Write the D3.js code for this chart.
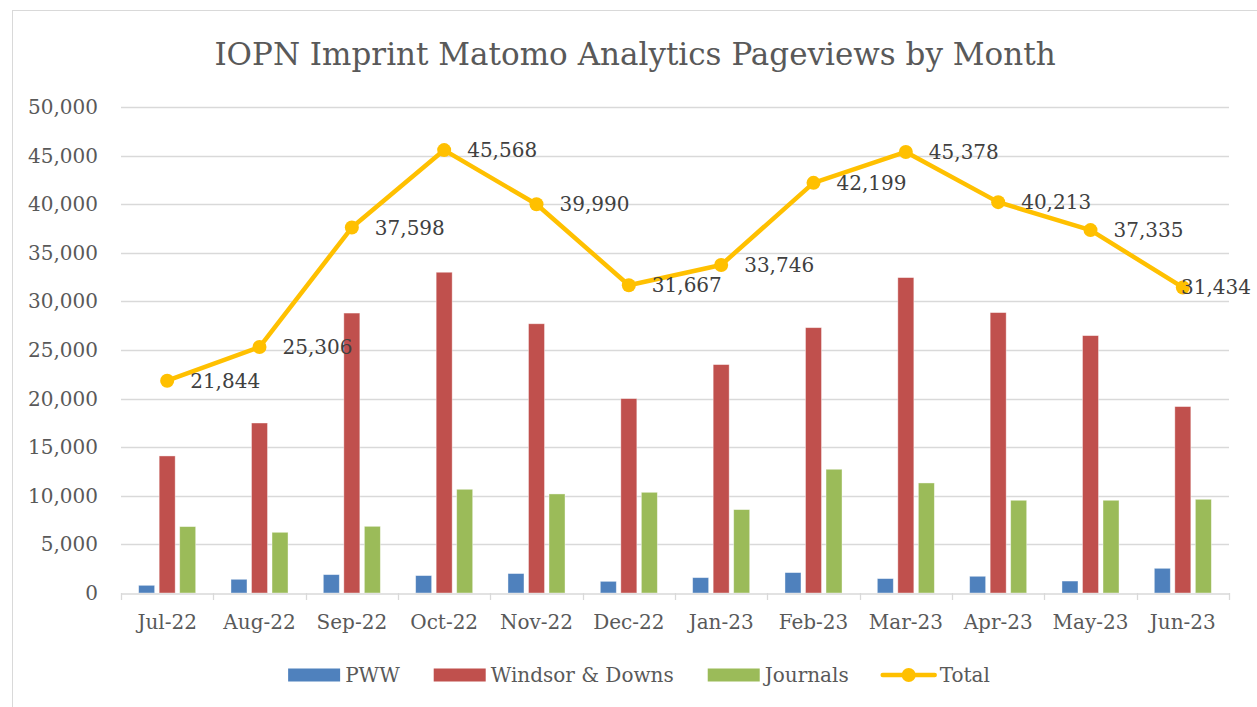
<!DOCTYPE html>
<html>
<head>
<meta charset="utf-8">
<script src="https://cdn.jsdelivr.net/npm/d3@7"></script>
<style>
  body { margin: 0; background: #fff; }
  svg { display: block; }
</style>
</head>
<body>
<div id="chart"></div>
<script>
const months = ["Jul-22", "Aug-22", "Sep-22", "Oct-22", "Nov-22", "Dec-22",
                "Jan-23", "Feb-23", "Mar-23", "Apr-23", "May-23", "Jun-23"];
const pww = [790, 1410, 1890, 1790, 2000, 1200, 1580, 2100, 1480, 1720, 1230, 2540];
const windsorDowns = [14100, 17490, 28800, 33000, 27700, 20000, 23500, 27300, 32450, 28850, 26480, 19180];
const journals = [6830, 6245, 6860, 10670, 10190, 10360, 8580, 12730, 11320, 9540, 9540, 9640];
const total = [21844, 25306, 37598, 45568, 39990, 31667, 33746, 42199, 45378, 40213, 37335, 31434];
const yTicks = [0, 5000, 10000, 15000, 20000, 25000, 30000, 35000, 40000, 45000, 50000];

const barSeries = [
    { name: "PWW", values: pww, color: "#4F81BD" },
    { name: "Windsor & Downs", values: windsorDowns, color: "#C0504D" },
    { name: "Journals", values: journals, color: "#9BBB59" }
];
const lineColor = "#FFC000";

const width = 1257;
const height = 707;
const font = "'DejaVu Serif', 'Liberation Serif', serif";
const margin = { top: 107, right: 28, bottom: 114, left: 121 };

const svg = d3.select("#chart").append("svg")
    .attr("width", width)
    .attr("height", height);

// chart frame
svg.append("rect")
    .attr("x", 12.5)
    .attr("y", 10.5)
    .attr("width", width)
    .attr("height", height)
    .attr("fill", "#fff")
    .attr("stroke", "#d9d9d9");

svg.append("text")
    .attr("x", 635)
    .attr("y", 65)
    .attr("text-anchor", "middle")
    .style("font-family", font)
    .style("font-size", "31px")
    .style("fill", "#595959")
    .text("IOPN Imprint Matomo Analytics Pageviews by Month");

const x = d3.scaleBand()
    .domain(months)
    .range([margin.left, width - margin.right])
    .padding(0);

const x1 = d3.scaleBand()
    .domain(barSeries.map(s => s.name))
    .range([0, x.bandwidth()])
    .paddingInner(0.22)
    .paddingOuter(0.86);

const y = d3.scaleLinear()
    .domain([0, 50000])
    .range([height - margin.bottom, margin.top]);

// gridlines
svg.append("g")
    .selectAll("line")
    .data(yTicks.filter(d => d > 0))
    .enter().append("line")
    .attr("x1", margin.left)
    .attr("x2", width - margin.right)
    .attr("y1", d => Math.round(y(d)) + 0.5)
    .attr("y2", d => Math.round(y(d)) + 0.5)
    .style("stroke", "#d9d9d9")
    .style("stroke-width", 1.3);

// y axis labels
const yAxis = svg.append("g")
    .attr("transform", `translate(${margin.left},0)`)
    .call(d3.axisLeft(y).tickValues(yTicks).tickSize(0).tickPadding(23)
        .tickFormat(d3.format(",")));
yAxis.select(".domain").remove();
yAxis.selectAll("text")
    .style("font-family", font)
    .style("font-size", "20px")
    .style("fill", "#595959");

// bars
const groups = svg.append("g")
    .selectAll("g")
    .data(months)
    .enter().append("g")
    .attr("transform", d => `translate(${x(d)},0)`);

groups.selectAll("rect")
    .data((m, i) => barSeries.map(s => ({ name: s.name, color: s.color, value: s.values[i] })))
    .enter().append("rect")
    .attr("x", d => x1(d.name))
    .attr("width", x1.bandwidth())
    .attr("y", d => y(d.value))
    .attr("height", d => y(0) - y(d.value))
    .attr("fill", d => d.color)
    .attr("stroke", "#fff")
    .attr("stroke-opacity", 0.5)
    .attr("stroke-width", 0.8);

// x axis
const xAxis = svg.append("g")
    .attr("transform", `translate(0,${Math.round(y(0)) + 0.5})`)
    .call(d3.axisBottom(x).tickSize(0).tickPadding(21));
xAxis.select(".domain")
    .style("stroke", "#d9d9d9")
    .style("stroke-width", 1.3);
xAxis.selectAll("text")
    .style("font-family", font)
    .style("font-size", "20px")
    .style("fill", "#595959");

// category boundary ticks
svg.append("g")
    .selectAll("line")
    .data(months.map(m => x(m)).concat([x.range()[1]]))
    .enter().append("line")
    .attr("x1", d => Math.round(d) + 0.5)
    .attr("x2", d => Math.round(d) + 0.5)
    .attr("y1", Math.round(y(0)))
    .attr("y2", Math.round(y(0)) + 7)
    .style("stroke", "#d9d9d9")
    .style("stroke-width", 1.3);

// total line
const cx = d => x(d) + x.bandwidth() / 2;
const line = d3.line()
    .x((d, i) => cx(months[i]))
    .y(d => y(d));

svg.append("path")
    .datum(total)
    .attr("d", line)
    .attr("fill", "none")
    .attr("stroke", lineColor)
    .attr("stroke-width", 4.5)
    .attr("stroke-linejoin", "round")
    .attr("stroke-linecap", "round");

svg.append("g")
    .selectAll("circle")
    .data(total)
    .enter().append("circle")
    .attr("cx", (d, i) => cx(months[i]))
    .attr("cy", d => y(d))
    .attr("r", 7)
    .attr("fill", lineColor);

// data labels, kept inside the frame on the right
const labels = svg.append("g")
    .selectAll("text")
    .data(total)
    .enter().append("text")
    .attr("y", d => y(d))
    .attr("dy", "0.35em")
    .style("font-family", font)
    .style("font-size", "20px")
    .style("fill", "#404040")
    .text(d3.format(","));

labels.attr("x", function (d, i) {
    const w = this.getComputedTextLength();
    return Math.min(cx(months[i]) + 23, 1251 - w);
});

// legend
const legendItems = barSeries.map(s => ({ name: s.name, color: s.color, type: "bar" }))
    .concat([{ name: "Total", color: lineColor, type: "line" }]);

const legend = svg.append("g");
const ly = 675;
let lx = 0;
legendItems.forEach(item => {
    const g = legend.append("g").attr("transform", `translate(${lx},0)`);
    if (item.type === "bar") {
        g.append("rect")
            .attr("x", 0)
            .attr("y", ly - 6.5)
            .attr("width", 52)
            .attr("height", 13)
            .attr("fill", item.color);
    } else {
        g.append("line")
            .attr("x1", 0).attr("x2", 52)
            .attr("y1", ly).attr("y2", ly)
            .attr("stroke", item.color)
            .attr("stroke-width", 4.5)
            .attr("stroke-linecap", "round");
        g.append("circle")
            .attr("cx", 26).attr("cy", ly).attr("r", 7)
            .attr("fill", item.color);
    }
    const t = g.append("text")
        .attr("x", 57)
        .attr("y", ly)
        .attr("dy", "0.35em")
        .style("font-family", font)
        .style("font-size", "20px")
        .style("fill", "#595959")
        .text(item.name);
    lx += 57 + t.node().getComputedTextLength() + 34;
});
const legendWidth = lx - 34;
legend.attr("transform", `translate(${639 - legendWidth / 2},0)`);
</script>
</body>
</html>
